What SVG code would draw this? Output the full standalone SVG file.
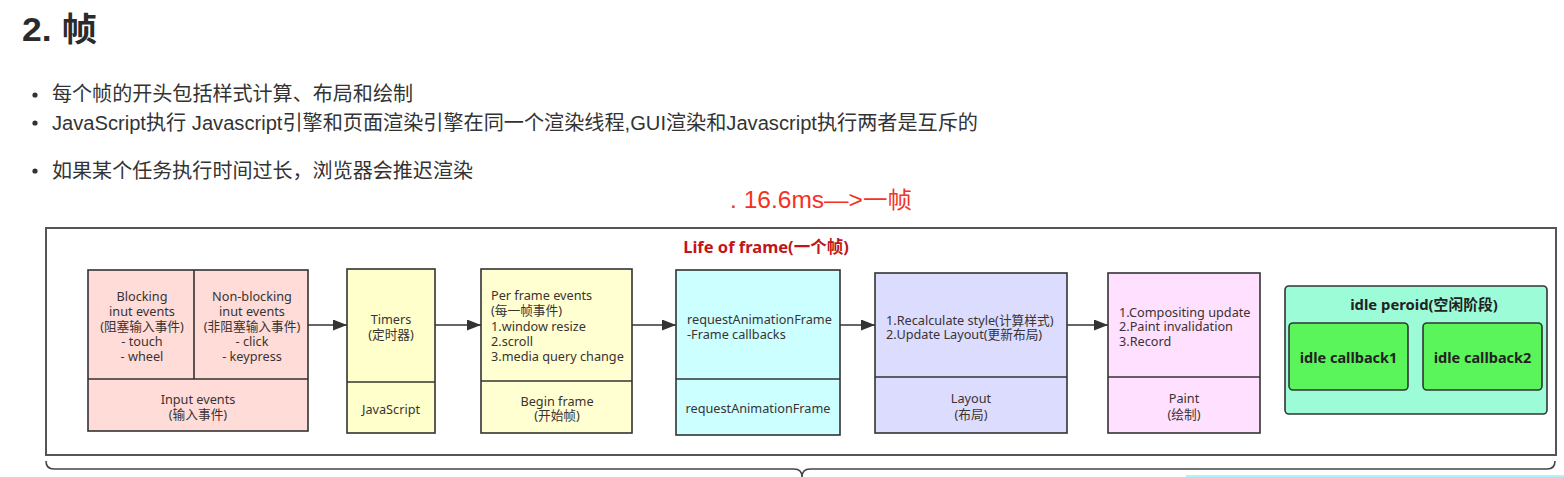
<svg xmlns="http://www.w3.org/2000/svg" width="1564" height="477" viewBox="0 0 1564 477">
<style>
.page{font-family:"Liberation Sans","Noto Sans CJK SC",sans-serif;fill:#333}
.t{font-family:"Noto Sans","Noto Sans CJK SC",sans-serif;font-size:12.7px;fill:#3a3333}
.c{text-anchor:middle}
.box{stroke:#333;stroke-width:1.6}
.div{stroke:#333;stroke-width:1.6;fill:none}
.conn{stroke:#333;stroke-width:1.6;fill:none;marker-end:url(#ah)}
.b{font-family:"Noto Sans","Noto Sans CJK SC",sans-serif;font-weight:bold;fill:#222}
</style>
<defs>
<marker id="ah" viewBox="0 0 14 11" refX="14" refY="5.5" markerWidth="14" markerHeight="11" markerUnits="userSpaceOnUse" orient="auto">
<path d="M0,0 L14,5.5 L0,11 Z" fill="#333"/>
</marker>
</defs>
<rect width="1564" height="477" fill="#fff"/>
<g id="page-text" class="page">
<text x="22" y="41" font-size="33" font-weight="bold" fill="#2b2b2b" textLength="75" lengthAdjust="spacingAndGlyphs">2. 帧</text>
<circle cx="35" cy="95" r="2.6" fill="#333"/>
<circle cx="35" cy="123" r="2.6" fill="#333"/>
<circle cx="35" cy="171" r="2.6" fill="#333"/>
<text x="52" y="101" font-size="20" textLength="361" lengthAdjust="spacingAndGlyphs">每个帧的开头包括样式计算、布局和绘制</text>
<text x="52" y="130" font-size="20" textLength="926" lengthAdjust="spacingAndGlyphs">JavaScript执行 Javascript引擎和页面渲染引擎在同一个渲染线程,GUI渲染和Javascript执行两者是互斥的</text>
<text x="52" y="178" font-size="20" textLength="421" lengthAdjust="spacingAndGlyphs">如果某个任务执行时间过长，浏览器会推迟渲染</text>
<text x="730" y="208" font-size="23" fill="#f5321e" textLength="182" lengthAdjust="spacingAndGlyphs">. 16.6ms—&gt;一帧</text>
</g>
<g id="frame">
<rect x="46" y="228" width="1510" height="227" fill="#fff" stroke="#555" stroke-width="2"/>
<text x="766" y="253" class="b c" font-size="16.5" style="fill:#c0151a">Life of frame(一个帧)</text>
<path d="M46,461 Q46,469 54,469 L794,469 Q802,469 802,477 Q802,469 810,469 L1547,469 Q1555,469 1555,461" fill="none" stroke="#444" stroke-width="1.6"/>
</g>
<g id="connectors">
<path class="conn" d="M308,325 L347,325"/>
<path class="conn" d="M435,325 L481,325"/>
<path class="conn" d="M632,325 L676,325"/>
<path class="conn" d="M840,325 L875,325"/>
<path class="conn" d="M1067,325 L1108,325"/>
</g>
<g id="input-events">
<rect class="box" x="88" y="270" width="220" height="161" fill="#ffdcd8"/>
<path class="div" d="M88,379 L308,379 M194,270 L194,379"/>
<text class="t c" x="142" y="300.5">Blocking</text>
<text class="t c" x="142" y="315.5">inut events</text>
<text class="t c" x="142" y="331">(阻塞输入事件)</text>
<text class="t c" x="142" y="346">- touch</text>
<text class="t c" x="142" y="361">- wheel</text>
<text class="t c" x="252" y="300.5">Non-blocking</text>
<text class="t c" x="252" y="315.5">inut events</text>
<text class="t c" x="252" y="331">(非阻塞输入事件)</text>
<text class="t c" x="252" y="346">- click</text>
<text class="t c" x="252" y="361">- keypress</text>
<text class="t c" x="198" y="403.5">Input events</text>
<text class="t c" x="198" y="418.5">(输入事件)</text>
</g>
<g id="timers">
<rect class="box" x="347" y="269" width="88" height="164" fill="#ffffcc"/>
<path class="div" d="M347,382 L435,382"/>
<text class="t c" x="391" y="323.5">Timers</text>
<text class="t c" x="391" y="338.5">(定时器)</text>
<text class="t c" x="391" y="413.5">JavaScript</text>
</g>
<g id="begin-frame">
<rect class="box" x="481" y="269" width="151" height="164" fill="#ffffd2"/>
<path class="div" d="M481,381 L632,381"/>
<text class="t" x="491" y="299.5">Per frame events</text>
<text class="t" x="491" y="315">(每一帧事件)</text>
<text class="t" x="491" y="330.5">1.window resize</text>
<text class="t" x="491" y="345.5">2.scroll</text>
<text class="t" x="491" y="361">3.media query change</text>
<text class="t c" x="557" y="405.5">Begin frame</text>
<text class="t c" x="557" y="419.5">(开始帧)</text>
</g>
<g id="raf">
<rect class="box" x="676" y="270" width="164" height="165" fill="#ccffff"/>
<path class="div" d="M676,379 L840,379"/>
<text class="t" x="687" y="323.5">requestAnimationFrame</text>
<text class="t" x="687" y="338.5">-Frame callbacks</text>
<text class="t c" x="758" y="412.5">requestAnimationFrame</text>
</g>
<g id="layout">
<rect class="box" x="875" y="273" width="192" height="160" fill="#dcdcff"/>
<path class="div" d="M875,377 L1067,377"/>
<text class="t" x="886" y="324.5">1.Recalculate style(计算样式)</text>
<text class="t" x="886" y="338.5">2.Update Layout(更新布局)</text>
<text class="t c" x="971" y="402.5">Layout</text>
<text class="t c" x="971" y="418.5">(布局)</text>
</g>
<g id="paint">
<rect class="box" x="1108" y="273" width="152" height="160" fill="#ffe0ff"/>
<path class="div" d="M1108,377 L1260,377"/>
<text class="t" x="1119" y="316.5">1.Compositing update</text>
<text class="t" x="1119" y="330.5">2.Paint invalidation</text>
<text class="t" x="1119" y="345.5">3.Record</text>
<text class="t c" x="1184" y="402.5">Paint</text>
<text class="t c" x="1184" y="418.5">(绘制)</text>
</g>
<g id="idle-period">
<rect class="box" x="1285" y="286" width="262" height="128" rx="4" fill="#9cfcd8"/>
<text class="b c" x="1424" y="310" font-size="14.8">idle peroid(空闲阶段)</text>
</g>
<g id="idle-callback1">
<rect class="box" x="1289" y="323" width="119" height="67" rx="4" fill="#5af55a"/>
<text class="b c" x="1348.5" y="363" font-size="14.5">idle callback1</text>
</g>
<g id="idle-callback2">
<rect class="box" x="1423" y="323" width="119" height="67" rx="4" fill="#5af55a"/>
<text class="b c" x="1482.5" y="363" font-size="14.5">idle callback2</text>
</g>
<rect x="1186" y="475" width="378" height="2" fill="#aaf4ff"/>
</svg>
